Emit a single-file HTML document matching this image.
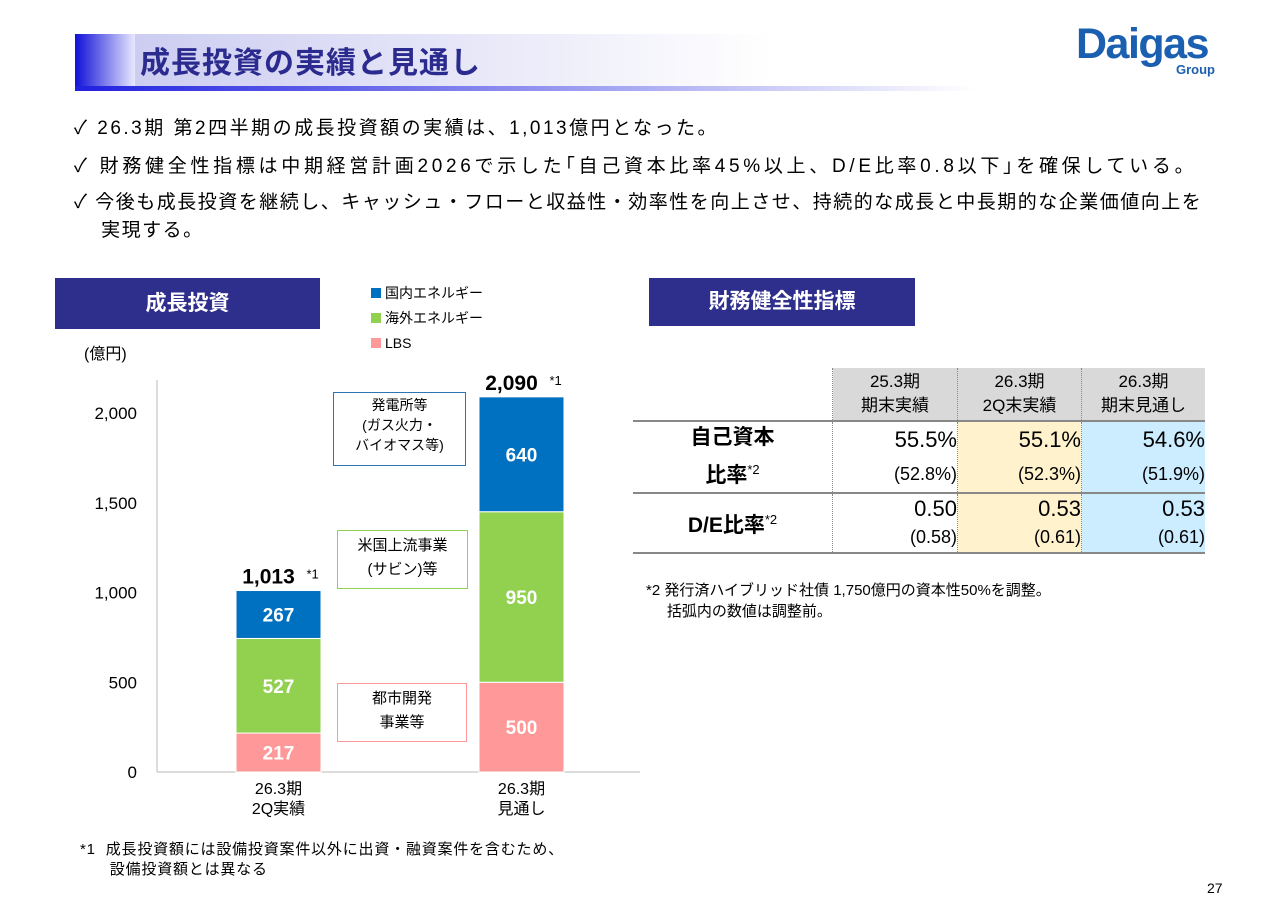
<!DOCTYPE html>
<html><head><meta charset="utf-8">
<style>
body{margin:0;width:1280px;height:904px;background:#fff;position:relative;overflow:hidden;font-family:"Liberation Sans","Noto Sans CJK JP",sans-serif;color:#000}
.a{position:absolute}
.hdr{left:75px;top:34px;width:1160px;height:56px;background:linear-gradient(90deg,#c8c8f0 0%,#fff 60%)}
.hbar{left:75px;top:34px;width:60px;height:56px;background:linear-gradient(90deg,#1010d8,#e8e8ff)}
.hline{left:75px;top:86px;width:900px;height:5px;background:linear-gradient(90deg,#2020e0,#fff)}
.ttl{left:140px;top:38px;font-size:30px;letter-spacing:1px;font-weight:bold;color:#2b2b8f}
.bul{left:74px;font-size:19px;letter-spacing:1.5px}
.sec{background:#2e2e8c;color:#fff;font-weight:bold;font-size:21px;text-align:center}
td{padding:0}
</style></head><body>
<div class="a hdr"></div>
<div class="a hbar"></div>
<div class="a hline"></div>
<div class="a ttl">成長投資の実績と見通し</div>
<div class="a" style="left:1076px;top:20px;font-size:43px;font-weight:bold;color:#1a5fb0;letter-spacing:-1.5px">Daigas</div>
<div class="a" style="left:1176px;top:62px;font-size:13px;font-weight:bold;color:#1a5fb0">Group</div>

<div class="a bul" style="top:113px;letter-spacing:2.5px">✓ 26.3期 第2四半期の成長投資額の実績は、1,013億円となった。</div>
<div class="a bul" style="top:151px;letter-spacing:3.7px">✓ 財務健全性指標は中期経営計画2026で示した｢自己資本比率45%以上、D/E比率0.8以下｣を確保している。</div>
<div class="a bul" style="top:189px;width:1180px;line-height:28px">✓ 今後も成長投資を継続し、キャッシュ・フローと収益性・効率性を向上させ、持続的な成長と中長期的な企業価値向上を<br>&nbsp;&nbsp;&nbsp;&nbsp;実現する。</div>

<div class="a sec" style="left:55px;top:278px;width:265px;height:51px;line-height:51px">成長投資</div>
<div class="a sec" style="left:649px;top:278px;width:266px;height:48px;line-height:48px">財務健全性指標</div>

<svg class="a" style="left:0;top:270px" width="640" height="620" id="chart"></svg>

<div class="a" style="left:333px;top:392px;width:131px;height:70px;border:1px solid #2e75b6;font-size:14px;text-align:center;line-height:20px;padding-top:2px">発電所等<br>(ガス火力・<br>バイオマス等)</div>
<div class="a" style="left:337px;top:530px;width:129px;height:54px;border:1px solid #92d050;font-size:15px;text-align:center;line-height:24px;padding-top:3px">米国上流事業<br>(サビン)等</div>
<div class="a" style="left:337px;top:683px;width:128px;height:54px;border:1px solid #ff9999;font-size:15px;text-align:center;line-height:24px;padding-top:3px">都市開発<br>事業等</div>

<div class="a" style="left:80px;top:840px;font-size:15px;letter-spacing:0.8px;line-height:20px">*1&nbsp;&nbsp;成長投資額には設備投資案件以外に出資・融資案件を含むため、<br>&nbsp;&nbsp;&nbsp;&nbsp;&nbsp;&nbsp;設備投資額とは異なる</div>

<table class="a" style="left:633px;top:368px;border-collapse:collapse;font-size:19px">
<tr style="height:53px;text-align:center;font-size:17px;line-height:24px"><td style="width:199px"></td>
<td style="width:124px;background:#d9d9d9;border-left:1px dotted #888">25.3期<br>期末実績</td>
<td style="width:123px;background:#d9d9d9;border-left:1px dotted #888">26.3期<br>2Q末実績</td>
<td style="width:123px;background:#d9d9d9;border-left:1px dotted #888">26.3期<br>期末見通し</td></tr>
<tr style="height:68px;border-top:2px solid #888;text-align:right;line-height:32px">
<td style="text-align:center;font-weight:bold;font-size:21px">自己資本<br>比率<sup style="font-size:13px;font-weight:normal">*2</sup></td>
<td style="border-left:1px dotted #888"><span style="font-size:22px">55.5%</span><br><span style="font-size:18px">(52.8%)</span></td>
<td style="background:#fff2cc;border-left:1px dotted #888"><span style="font-size:22px">55.1%</span><br><span style="font-size:18px">(52.3%)</span></td>
<td style="background:#ccecff;border-left:1px dotted #888"><span style="font-size:22px">54.6%</span><br><span style="font-size:18px">(51.9%)</span></td></tr>
<tr style="height:60px;border-top:2px solid #888;border-bottom:2px solid #888;text-align:right;line-height:26px">
<td style="text-align:center;font-weight:bold;font-size:21px">D/E比率<sup style="font-size:13px;font-weight:normal">*2</sup></td>
<td style="border-left:1px dotted #888"><span style="font-size:22px">0.50</span><br><span style="font-size:18px">(0.58)</span></td>
<td style="background:#fff2cc;border-left:1px dotted #888"><span style="font-size:22px">0.53</span><br><span style="font-size:18px">(0.61)</span></td>
<td style="background:#ccecff;border-left:1px dotted #888"><span style="font-size:22px">0.53</span><br><span style="font-size:18px">(0.61)</span></td></tr>
</table>
<div class="a" style="left:646px;top:580px;font-size:15px;line-height:21px">*2 発行済ハイブリッド社債 1,750億円の資本性50%を調整。<br>&nbsp;&nbsp;&nbsp;&nbsp;&nbsp;括弧内の数値は調整前。</div>
<div class="a" style="left:1207px;top:880px;font-size:14px">27</div>

<script>
const categories=["26.3期|2Q実績","26.3期|見通し"];
const seriesNames=["LBS","海外エネルギー","国内エネルギー"];
const lbs=[217,500];
const overseas=[527,950];
const domestic=[267,640];
const totals=["1,013","2,090"];
const yTicks=[0,500,1000,1500,2000];
const yTickLabels=["0","500","1,000","1,500","2,000"];
const colors=["#ff9999","#92d050","#0070c0"];
const NS="http://www.w3.org/2000/svg";
const svg=document.getElementById('chart');
const y0=502, scale=359/2000;
const y=v=>y0-v*scale;
const xs=[236,479], bw=85;
function mk(t,a,txt){const e=document.createElementNS(NS,t);for(const k in a)e.setAttribute(k,a[k]);if(txt!=null)e.textContent=txt;svg.appendChild(e);return e;}
let e;
e=mk('line',{x1:157,y1:110,x2:157,y2:y0,stroke:'#bbb'});


e=mk('line',{x1:157,y1:y0,x2:641,y2:y0,stroke:'#bbb'});


yTicks.forEach((v,i)=>{e=mk('text',{x:137,y:y(v)+6,'text-anchor':'end','font-size':17},yTickLabels[i]);

});
e=mk('text',{x:84,y:89,'font-size':16},'(億円)');


const series=[lbs,overseas,domestic];
categories.forEach((c,i)=>{
 let base=0;
 series.forEach((s,j)=>{
  const v=s[i];
  e=mk('rect',{x:xs[i],y:y(base+v),width:bw,height:v*scale,fill:colors[j],stroke:'#fff','stroke-width':1});
  
  
  e=mk('text',{x:xs[i]+bw/2,y:y(base+v/2)+7,'text-anchor':'middle','font-size':19,'font-weight':'bold',fill:'#fff'},String(v));
  
  
  base+=v;
 });
 e=mk('text',{x:xs[i]+bw/2-10,y:y(base)-7,'text-anchor':'middle','font-size':21,'font-weight':'bold'},totals[i]);
 
 
 e=mk('text',{x:xs[i]+bw/2+28,y:y(base)-12,'font-size':13},'*1');
 
 
 c.split('|').forEach((ln,k)=>{e=mk('text',{x:xs[i]+bw/2,y:y0+22+k*20,'text-anchor':'middle','font-size':16},ln);
 
 });
});
[2,1,0].forEach((j,k)=>{
 e=mk('rect',{x:371,y:18+k*25,width:10,height:10,fill:colors[j]});
 
 
 e=mk('text',{x:385,y:28+k*25,'font-size':14},seriesNames[j]);
 
 
});
</script>
</body></html>
